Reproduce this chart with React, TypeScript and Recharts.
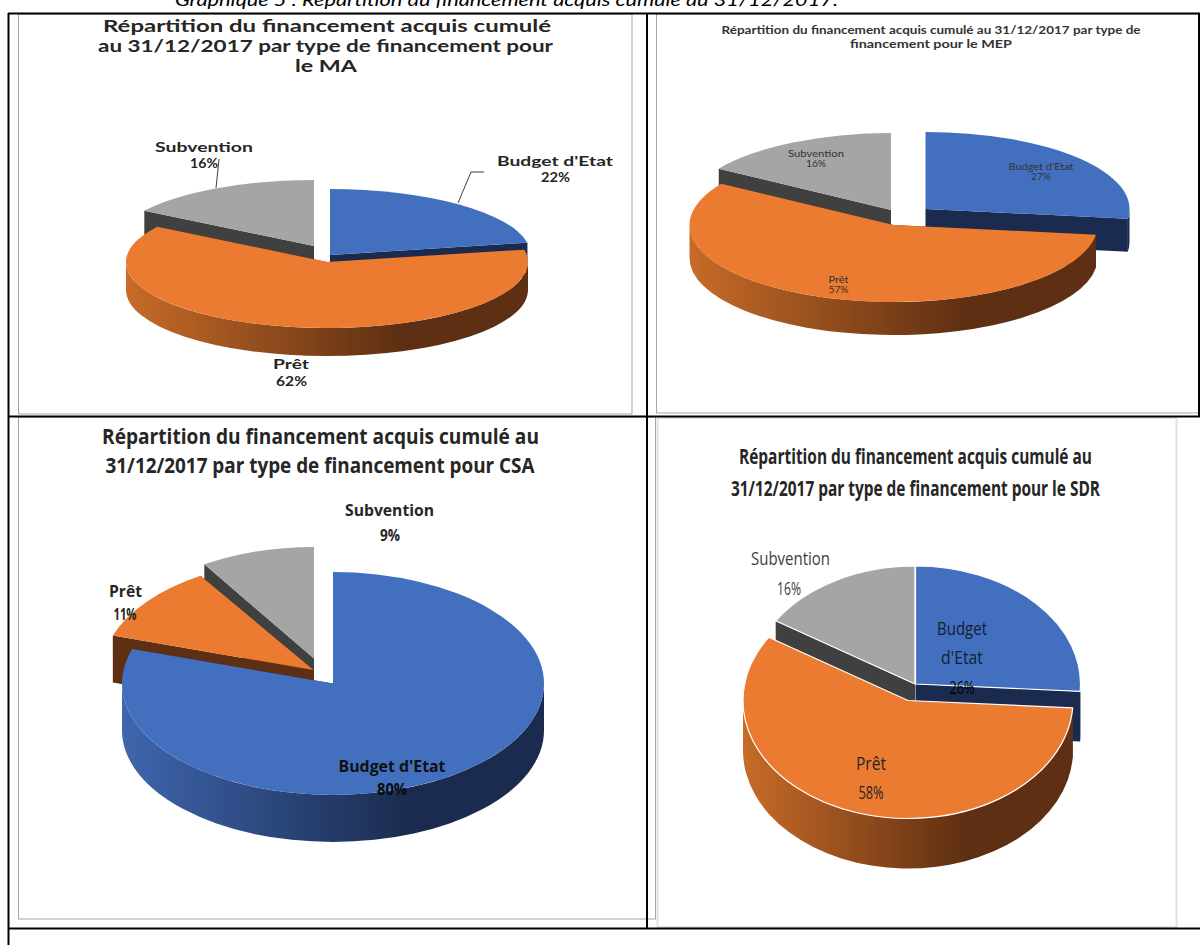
import React from "react";
import { PieChart, Pie } from "recharts";

const categories = ["Budget d'Etat", "Prêt", "Subvention"];
const maValues = [22, 62, 16];
const mepValues = [27, 57, 16];
const csaValues = [80, 11, 9];
const sdrValues = [26, 58, 16];

const caption = "Graphique 5 : Répartition du financement acquis cumulé au 31/12/2017.";

const topColors = { "Budget d'Etat": "#4270BF", "Prêt": "#EB7B30", "Subvention": "#A5A5A5" };
const edgeColors = { "Budget d'Etat": "#1A2B4F", "Prêt": "#5E2F12", "Subvention": "#404040" };
const wallLight = { "Budget d'Etat": "#3F66AE", "Prêt": "#C76B28", "Subvention": "#7A7A7A" };

// each pie sits on the page at cx,cy; the pulled-out slices are shifted from there
const panels = [
  {
    id: "ma", values: maValues, cx: 327, cy: 262, rx: 201, ry: 66, depth: 28,
    shift: { "Budget d'Etat": [3, -7], "Prêt": [0, 0], "Subvention": [-13, -16] },
    order: ["Subvention", "Budget d'Etat", "Prêt"],
  },
  {
    id: "mep", values: mepValues, cx: 893.5, cy: 225, rx: 204, ry: 77, depth: 33,
    shift: { "Budget d'Etat": [32, -16], "Prêt": [0, 0], "Subvention": [-2.5, -15] },
    order: ["Subvention", "Budget d'Etat", "Prêt"],
  },
  {
    id: "csa", values: csaValues, cx: 333, cy: 683.5, rx: 211, ry: 111.5, depth: 47,
    shift: { "Budget d'Etat": [0, 0], "Prêt": [-19.5, -13.5], "Subvention": [-19, -25] },
    narrow: { "Subvention": 0.97 },
    order: ["Subvention", "Prêt", "Budget d'Etat"],
  },
  {
    id: "sdr", values: sdrValues, cx: 908, cy: 700.5, rx: 165, ry: 118, depth: 50, outline: "#FFFFFF",
    shift: { "Budget d'Etat": [7.5, -16.5], "Prêt": [0, 0], "Subvention": [7, -16.5] },
    order: ["Subvention", "Budget d'Etat", "Prêt"],
  },
];

// [text, center x, baseline, width, size, weight, colour, family]
const L = "Lato, sans-serif";
const C = "'Open Sans', sans-serif";
const texts = [
  ["Répartition du financement acquis cumulé", 327, 32, 448, 17, 700, "#262626", L],
  ["au 31/12/2017 par type de financement pour", 325.5, 52, 455, 17, 700, "#262626", L],
  ["le MA", 326, 72, 62, 17, 700, "#262626", L],
  ["Subvention", 204, 152, 98, 12.5, 700, "#262626", L],
  ["16%", 204, 168, 28, 12.5, 700, "#262626", L],
  ["Budget d'Etat", 555, 166, 116, 12.5, 700, "#262626", L],
  ["22%", 555.5, 182, 29, 12.5, 700, "#262626", L],
  ["Prêt", 291, 369, 36, 12.5, 700, "#262626", L],
  ["62%", 291.5, 386, 31, 12.5, 700, "#262626", L],

  ["Répartition du financement acquis cumulé au 31/12/2017 par type de", 931, 34, 419, 10.5, 700, "#333333", L],
  ["financement pour le MEP", 931, 48, 162, 10.5, 700, "#333333", L],
  ["Subvention", 816, 157, 56, 9, 400, "#333333", L],
  ["16%", 816, 167, 20, 9, 400, "#333333", L],
  ["Budget d'Etat", 1041, 170, 65, 9, 400, "#333333", L],
  ["27%", 1041, 180, 20, 9, 400, "#333333", L],
  ["Prêt", 838.5, 283, 20, 9, 400, "#333333", L],
  ["57%", 838.5, 293, 20, 9, 400, "#333333", L],

  ["Répartition du financement acquis cumulé au", 320.5, 444, 437, 22, 700, "#262626", C],
  ["31/12/2017 par type de financement pour CSA", 320, 472.5, 429, 22, 700, "#262626", C],
  ["Subvention", 389.5, 516, 89, 16, 700, "#262626", C],
  ["9%", 390, 541, 20, 16, 700, "#262626", C],
  ["Prêt", 125.5, 597, 33, 16, 700, "#262626", C],
  ["11%", 125, 620, 23, 16, 700, "#262626", C],
  ["Budget d'Etat", 392, 772, 107, 16, 700, "#111111", C],
  ["80%", 392, 795, 30, 16, 700, "#0A0A0A", C],

  ["Répartition du financement acquis cumulé au", 915.5, 464, 353, 22, 700, "#262626", C],
  ["31/12/2017 par type de financement pour le SDR", 915.5, 496, 369, 22, 700, "#262626", C],
  ["Subvention", 790.5, 565, 79, 19, 400, "#404040", C],
  ["16%", 789, 595, 24, 19, 400, "#404040", C],
  ["Budget", 962, 635, 50, 19, 400, "#141E33", C],
  ["d'Etat", 962, 664, 42, 19, 400, "#141E33", C],
  ["26%", 962, 694, 25, 19, 400, "#050505", C],
  ["Prêt", 871, 770, 30, 19, 400, "#262626", C],
  ["58%", 871, 799, 25, 19, 400, "#262626", C],
];

function makeSlice(panel, wanted) {
  return (props) => {
    const name = props.payload?.name ?? props.name;
    if (name !== wanted) return null;
    const [dx, dy] = panel.shift[name];
    const { startAngle, endAngle, cx, cy } = props;
    const rx = props.outerRadius * (panel.narrow?.[name] ?? 1);
    const ry = panel.ry;
    const ax = cx + dx;
    const ay = cy + dy;
    const d = panel.depth;
    const at = (deg) => {
      const r = (deg * Math.PI) / 180;
      return [ax + rx * Math.cos(r), ay - ry * Math.sin(r)];
    };
    const [sx, sy] = at(startAngle);
    const [ex, ey] = at(endAngle);
    const large = startAngle - endAngle > 180 ? 1 : 0;
    const top = `M${ax},${ay}L${sx},${sy}A${rx},${ry} 0 ${large} 1 ${ex},${ey}Z`;
    const cut = (x, y) => `M${ax},${ay}L${x},${y}L${x},${y + d}L${ax},${ay + d}Z`;

    // outer wall only on the part of the rim facing the viewer
    const hi = Math.min(startAngle, 0);
    const lo = Math.max(endAngle, -180);
    let wall = null;
    if (hi > lo) {
      const [hx, hy] = at(hi);
      const [lx, ly] = at(lo);
      wall = `M${hx},${hy}A${rx},${ry} 0 0 1 ${lx},${ly}L${lx},${ly + d}A${rx},${ry} 0 0 0 ${hx},${hy + d}Z`;
    }
    const gradId = `wall-${panel.id}-${categories.indexOf(name)}`;
    return (
      <g>
        <defs>
          <linearGradient id={gradId} gradientUnits="userSpaceOnUse" x1={ax - rx} y1={0} x2={ax + rx} y2={0}>
            <stop offset="0" stopColor={wallLight[name]} />
            <stop offset="0.68" stopColor={edgeColors[name]} />
            <stop offset="1" stopColor={edgeColors[name]} />
          </linearGradient>
        </defs>
        <path d={cut(sx, sy)} fill={edgeColors[name]} />
        <path d={cut(ex, ey)} fill={edgeColors[name]} />
        {wall && <path d={wall} fill={`url(#${gradId})`} />}
        <path d={top} fill={topColors[name]} stroke={panel.outline ?? "none"} strokeWidth={panel.outline ? 1.2 : 0} />
      </g>
    );
  };
}

export default function App() {
  return (
    <div style={{ position: "absolute", left: 0, top: 0, width: 1200, height: 945, overflow: "hidden", background: "#fff" }}>
      <svg width={1200} height={945} style={{ position: "absolute", left: 0, top: 0 }}>
        {/* chart frames */}
        <rect x={18.5} y={14} width={613.5} height={400} fill="none" stroke="#A6A6A6" strokeWidth={1} />
        <rect x={656.5} y={14} width={545} height={399} fill="none" stroke="#A6A6A6" strokeWidth={1} />
        <rect x={18.5} y={417} width={637} height={502} fill="none" stroke="#A6A6A6" strokeWidth={1} />
        <rect x={657.5} y={418} width={519} height={509} fill="none" stroke="#E2E2E2" strokeWidth={2} />
        {/* table rules */}
        <g stroke="#000" strokeWidth={2} fill="none">
          <line x1={8.5} y1={13} x2={8.5} y2={945} />
          <line x1={647} y1={13} x2={647} y2={928} />
          <line x1={1199} y1={13} x2={1199} y2={416} />
          <line x1={8} y1={13.5} x2={1200} y2={13.5} />
          <line x1={8} y1={416.5} x2={1200} y2={416.5} />
          <line x1={8} y1={928.5} x2={1200} y2={928.5} />
        </g>
      </svg>
      <div style={{ position: "absolute", left: 0, top: 0 }}>
        <PieChart width={1200} height={945} margin={{ top: 0, right: 0, bottom: 0, left: 0 }}>
          {panels.flatMap((p) =>
            p.order.map((name) => (
              <Pie
                key={`${p.id}-${name}`}
                data={categories.map((c, i) => ({ name: c, value: p.values[i] }))}
                dataKey="value"
                nameKey="name"
                cx={p.cx}
                cy={p.cy}
                innerRadius={0}
                outerRadius={p.rx}
                startAngle={90}
                endAngle={-270}
                stroke="none"
                isAnimationActive={false}
                shape={makeSlice(p, name)}
              />
            ))
          )}
        </PieChart>
      </div>
      <svg width={1200} height={945} style={{ position: "absolute", left: 0, top: 0, pointerEvents: "none" }}>
        <text x={506.5} y={6} textAnchor="middle" textLength={663} lengthAdjust="spacingAndGlyphs"
          style={{ fontFamily: L, fontStyle: "italic", fontSize: 18 }} fill="#000">
          {caption}
        </text>
        {/* leader lines of the MA pie */}
        <polyline points="219,159 216,188" fill="none" stroke="#404040" strokeWidth={1} />
        <polyline points="484,172 471,172 458,203" fill="none" stroke="#404040" strokeWidth={1} />
        {texts.map(([t, x, y, w, size, weight, fill, family], i) => (
          <text key={i} x={x} y={y} textAnchor="middle" textLength={w} lengthAdjust="spacingAndGlyphs"
            fill={fill} style={{ fontFamily: family, fontSize: size, fontWeight: weight }}>
            {t}
          </text>
        ))}
      </svg>
    </div>
  );
}
